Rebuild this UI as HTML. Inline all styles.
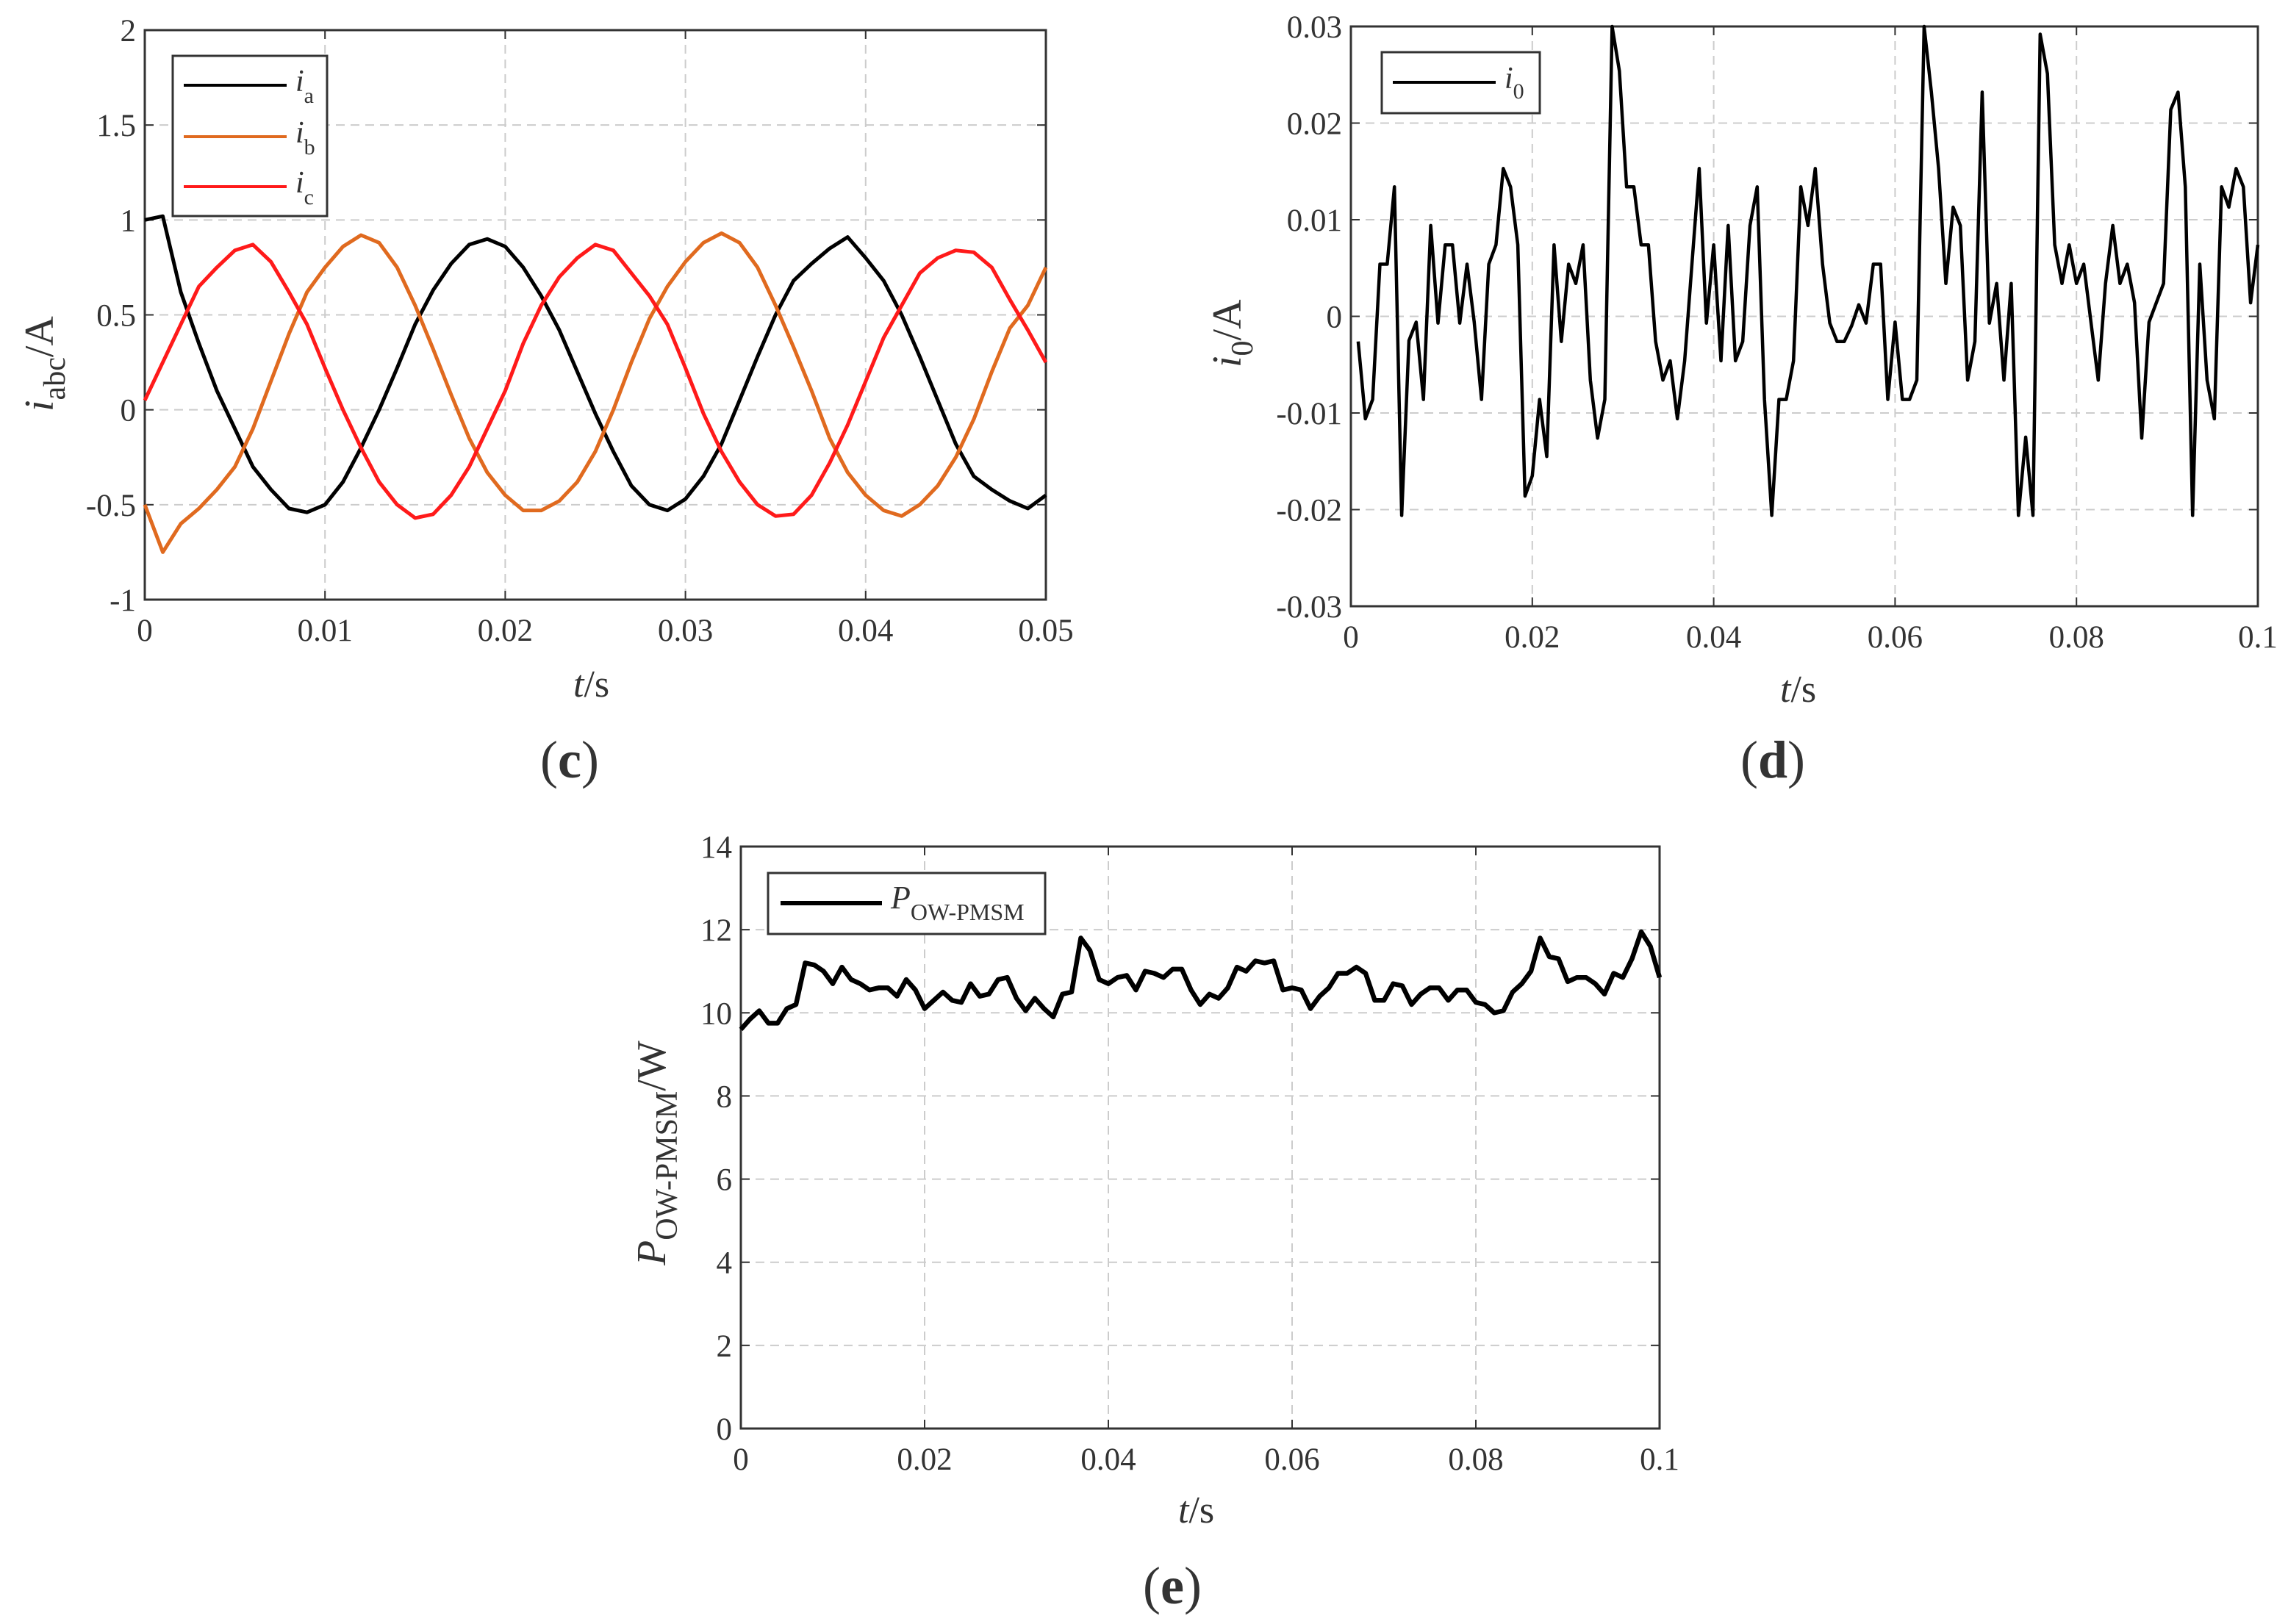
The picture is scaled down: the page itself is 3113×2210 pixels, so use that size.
<!DOCTYPE html>
<html><head><meta charset="utf-8"><style>
html,body{margin:0;padding:0;background:#fff}
svg{display:block}
text{font-family:"Liberation Serif",serif;fill:#333}
</style></head><body>
<svg id="fig" width="3113" height="2210" viewBox="0 0 3113 2210" xmlns="http://www.w3.org/2000/svg"></svg>
<script>
// ---- data: panel c ----
const cTime0 = 0, cStep = 0.001;
const iaVals = [1.0,1.02,0.62,0.35,0.1,-0.1,-0.3,-0.42,-0.52,-0.54,-0.5,-0.38,-0.2,0.0,0.22,0.45,0.63,0.77,0.87,0.9,0.86,0.75,0.6,0.42,0.2,-0.02,-0.22,-0.4,-0.5,-0.53,-0.47,-0.35,-0.18,0.05,0.28,0.5,0.68,0.77,0.85,0.91,0.8,0.68,0.5,0.28,0.05,-0.18,-0.35,-0.42,-0.48,-0.52,-0.45];
const ibVals = [-0.5,-0.75,-0.6,-0.52,-0.42,-0.3,-0.1,0.15,0.4,0.62,0.75,0.86,0.92,0.88,0.75,0.55,0.32,0.08,-0.15,-0.33,-0.45,-0.53,-0.53,-0.48,-0.38,-0.22,0.0,0.25,0.48,0.65,0.78,0.88,0.93,0.88,0.75,0.55,0.33,0.1,-0.15,-0.33,-0.45,-0.53,-0.56,-0.5,-0.4,-0.25,-0.05,0.2,0.43,0.55,0.75];
const icVals = [0.05,0.25,0.45,0.65,0.75,0.84,0.87,0.78,0.62,0.45,0.22,0.0,-0.2,-0.38,-0.5,-0.57,-0.55,-0.45,-0.3,-0.1,0.1,0.35,0.55,0.7,0.8,0.87,0.84,0.72,0.6,0.45,0.22,-0.02,-0.22,-0.38,-0.5,-0.56,-0.55,-0.45,-0.28,-0.08,0.15,0.38,0.55,0.72,0.8,0.84,0.83,0.75,0.58,0.42,0.25];
const cXTicks = ["0","0.01","0.02","0.03","0.04","0.05"];
const cYTicks = ["-1","-0.5","0","0.5","1","1.5","2"];
// ---- data: panel d (mA) ----
const i0Vals = [-2.6,-10.6,-8.6,5.4,5.4,13.4,-20.6,-2.5,-0.6,-8.6,9.4,-0.7,7.4,7.4,-0.7,5.4,-0.6,-8.6,5.4,7.4,15.3,13.4,7.4,-18.6,-16.5,-8.6,-14.5,7.4,-2.6,5.4,3.4,7.4,-6.6,-12.6,-8.6,30,25.4,13.4,13.4,7.4,7.4,-2.6,-6.6,-4.6,-10.6,-4.6,5.4,15.3,-0.7,7.4,-4.6,9.4,-4.6,-2.6,9.4,13.4,-8.6,-20.6,-8.6,-8.6,-4.6,13.4,9.4,15.3,5.4,-0.7,-2.6,-2.6,-1,1.2,-0.7,5.4,5.4,-8.6,-0.6,-8.6,-8.6,-6.6,30,23.2,15.3,3.4,11.3,9.4,-6.6,-2.6,23.2,-0.7,3.4,-6.6,3.4,-20.6,-12.5,-20.6,29.2,25.1,7.4,3.4,7.4,3.4,5.4,-0.6,-6.6,3.4,9.4,3.4,5.4,1.4,-12.6,-0.6,1.4,3.4,21.4,23.2,13.4,-20.6,5.4,-6.6,-10.6,13.4,11.3,15.3,13.4,1.4,7.4];
const dXTicks = ["0","0.02","0.04","0.06","0.08","0.1"];
const dYTicks = ["-0.03","-0.02","-0.01","0","0.01","0.02","0.03"];
// ---- data: panel e ----
const pVals = [9.6,9.85,10.05,9.75,9.75,10.1,10.2,11.2,11.15,11.0,10.7,11.1,10.8,10.7,10.55,10.6,10.6,10.4,10.8,10.55,10.1,10.3,10.5,10.3,10.25,10.7,10.4,10.45,10.8,10.85,10.35,10.05,10.35,10.1,9.9,10.45,10.5,11.8,11.5,10.8,10.7,10.85,10.9,10.55,11.0,10.95,10.85,11.05,11.05,10.55,10.2,10.45,10.35,10.6,11.1,11.0,11.25,11.2,11.25,10.55,10.6,10.55,10.1,10.4,10.6,10.95,10.95,11.1,10.95,10.3,10.3,10.7,10.65,10.2,10.45,10.6,10.6,10.3,10.55,10.55,10.25,10.2,10.0,10.05,10.5,10.7,11.0,11.8,11.35,11.3,10.75,10.85,10.85,10.7,10.45,10.95,10.85,11.3,11.95,11.6,10.85];
const eXTicks = ["0","0.02","0.04","0.06","0.08","0.1"];
const eYTicks = ["0","2","4","6","8","10","12","14"];

const NS="http://www.w3.org/2000/svg";
const svg=document.getElementById('fig');
function mk(tag,attrs,parent){const e=document.createElementNS(NS,tag);for(const k in attrs)e.setAttribute(k,attrs[k]);(parent||svg).appendChild(e);return e;}

function axes(name,box,xt,yt){
  const g=mk('g',{});
  
  
  const [L,T,R,B]=box;
  xt.forEach((lab,i)=>{
    const x=L+(R-L)*i/(xt.length-1);
    if(i>0&&i<xt.length-1){const gl=mk('line',{x1:x,y1:T,x2:x,y2:B,stroke:'#ccc','stroke-width':2,'stroke-dasharray':'12,8'},g);
      }
    mk('line',{x1:x,y1:B,x2:x,y2:B-12,stroke:'#333','stroke-width':2},g);
    mk('line',{x1:x,y1:T,x2:x,y2:T+12,stroke:'#333','stroke-width':2},g);
    const t=mk('text',{x:x,y:B+56,'text-anchor':'middle','font-size':43},g);t.textContent=lab;
    
  });
  yt.forEach((lab,i)=>{
    const y=B-(B-T)*i/(yt.length-1);
    if(i>0&&i<yt.length-1){const gl=mk('line',{x1:L,y1:y,x2:R,y2:y,stroke:'#ccc','stroke-width':2,'stroke-dasharray':'12,8'},g);
      }
    mk('line',{x1:L,y1:y,x2:L+12,y2:y,stroke:'#333','stroke-width':2},g);
    mk('line',{x1:R,y1:y,x2:R-12,y2:y,stroke:'#333','stroke-width':2},g);
    const t=mk('text',{x:L-12,y:y+15,'text-anchor':'end','font-size':43},g);t.textContent=lab;
    
  });
  const fr=mk('rect',{x:L,y:T,width:R-L,height:B-T,fill:'none',stroke:'#333','stroke-width':3},g);
  
}
function series(name,box,xmin,xmax,ymin,ymax,ts,vs,color,w){
  const [L,T,R,B]=box;
  const sx=v=>L+(v-xmin)/(xmax-xmin)*(R-L), sy=v=>B-(v-ymin)/(ymax-ymin)*(B-T);
  const d=vs.map((v,i)=>(i?'L':'M')+sx(ts[i]).toFixed(1)+','+sy(v).toFixed(1)).join('');
  const p=mk('path',{d:d,fill:'none',stroke:color,'stroke-width':w,'stroke-linejoin':'round'});
  
  
}
function txt(html,x,y,size,name,extra){
  const t=mk('text',Object.assign({x:x,y:y,'font-size':size},extra||{}));
  t.innerHTML=html;
  
  
  return t;
}

// Panel c
const cBox=[197,41,1423,816];
axes('panel-c',cBox,cXTicks,cYTicks);
const cT=iaVals.map((_,i)=>cTime0+i*cStep);
series('series-ia',cBox,0,0.05,-1,2,cT,iaVals,'#000',5);
series('series-ib',cBox,0,0.05,-1,2,cT,ibVals,'#e06a1f',5);
series('series-ic',cBox,0,0.05,-1,2,cT,icVals,'#ff1a1a',5);
const lc=mk('rect',{x:235,y:76,width:210,height:218,fill:'#fff',stroke:'#333','stroke-width':3});

[['#000','a',116],['#e06a1f','b',186],['#ff1a1a','c',254]].forEach(([c,s,y])=>{
  const l=mk('line',{x1:250,y1:y,x2:390,y2:y,stroke:c,'stroke-width':4});
  
  txt('<tspan font-style="italic">i</tspan><tspan font-size="30" dy="16">'+s+'</tspan>',402,y+8,42,'legend-label-i'+s);
});
txt('<tspan font-style="italic">i</tspan><tspan font-size="42" dy="16">abc</tspan><tspan dy="-16">/A</tspan>',0,0,56,'y-axis-title-c',{transform:'translate(72,560) rotate(-90)'});
txt('<tspan font-style="italic">t</tspan>/s',780,948,52,'x-axis-title-c');
txt('(<tspan font-weight="bold">c</tspan>)',735,1058,72,'panel-label-c',{fill:'#000'});

// Panel d
const dBox=[1838,36,3072,825];
axes('panel-d',dBox,dXTicks,dYTicks);
const dT=i0Vals.map((_,i)=>0.0008+i*(0.1-0.0008)/(i0Vals.length-1));
series('series-i0',dBox,0,0.1,-30,30,dT,i0Vals,'#000',4.5);
const ld=mk('rect',{x:1880,y:71,width:215,height:83,fill:'#fff',stroke:'#333','stroke-width':3});

const ldl=mk('line',{x1:1895,y1:112,x2:2035,y2:112,stroke:'#000','stroke-width':4});

txt('<tspan font-style="italic">i</tspan><tspan font-size="30" dy="14">0</tspan>',2047,120,42,'legend-label-i0');
txt('<tspan font-style="italic">i</tspan><tspan font-size="42" dy="16">0</tspan><tspan dy="-16">/A</tspan>',0,0,56,'y-axis-title-d',{transform:'translate(1688,500) rotate(-90)'});
txt('<tspan font-style="italic">t</tspan>/s',2422,955,52,'x-axis-title-d');
txt('(<tspan font-weight="bold">d</tspan>)',2368,1058,72,'panel-label-d',{fill:'#000'});

// Panel e
const eBox=[1008,1152,2258,1944];
axes('panel-e',eBox,eXTicks,eYTicks);
const eT=pVals.map((_,i)=>i*0.001);
series('series-p',eBox,0,0.1,0,14,eT,pVals,'#000',6.5);
const le=mk('rect',{x:1045,y:1188,width:377,height:83,fill:'#fff',stroke:'#333','stroke-width':3});

const lel=mk('line',{x1:1062,y1:1229,x2:1200,y2:1229,stroke:'#000','stroke-width':6});

txt('<tspan font-style="italic">P</tspan><tspan font-size="32" dy="16">OW-PMSM</tspan>',1212,1236,44,'legend-label-p');
txt('<tspan font-style="italic">P</tspan><tspan font-size="42" dy="16">OW-PMSM</tspan><tspan dy="-16">/W</tspan>',0,0,56,'y-axis-title-e',{transform:'translate(905,1722) rotate(-90)'});
txt('<tspan font-style="italic">t</tspan>/s',1603,2072,52,'x-axis-title-e');
txt('(<tspan font-weight="bold">e</tspan>)',1555,2182,72,'panel-label-e',{fill:'#000'});
</script>
</body></html>
